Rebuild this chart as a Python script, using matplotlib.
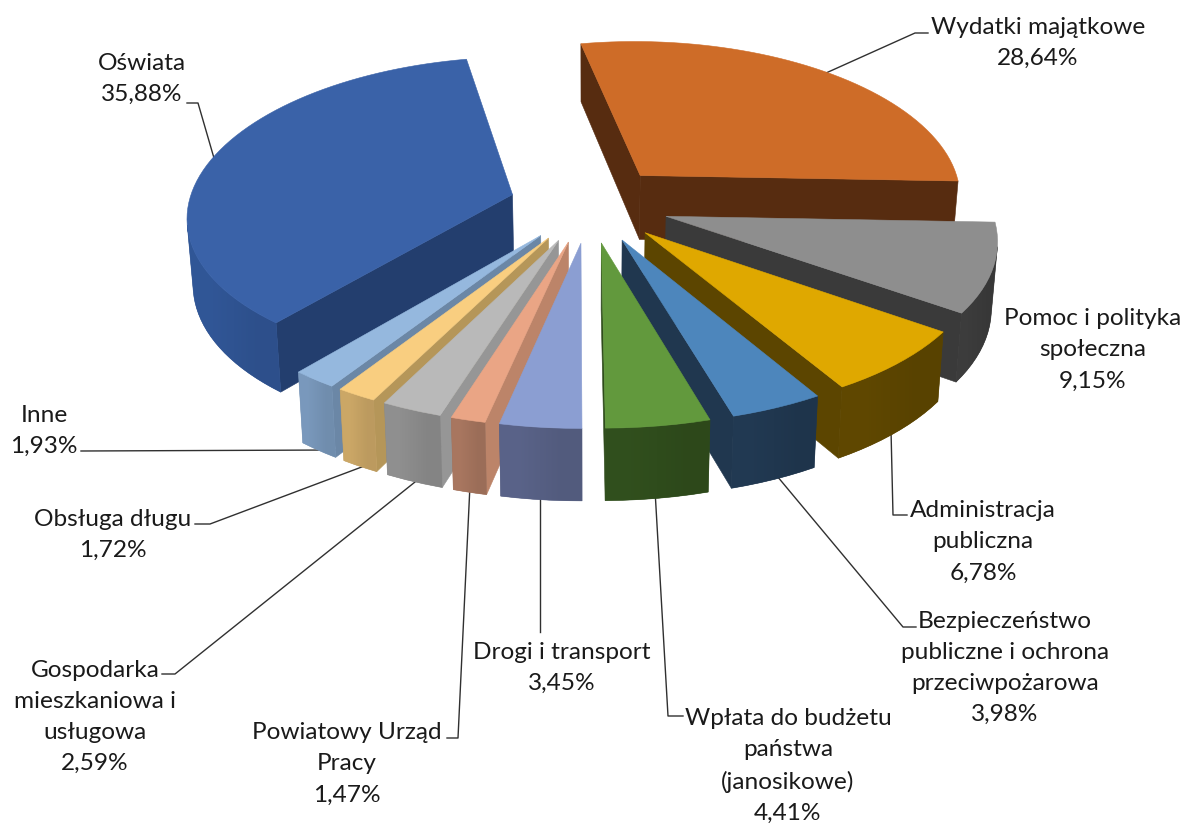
import numpy as np
import matplotlib
matplotlib.use("Agg")
import matplotlib.pyplot as plt
from matplotlib.colors import to_rgb
from matplotlib.patches import Polygon

# dane
labels = ["Wydatki majątkowe", "Pomoc i polityka\nspołeczna", "Administracja\npubliczna",
          "Bezpieczeństwo\npubliczne i ochrona\nprzeciwpożarowa",
          "Wpłata do budżetu\npaństwa\n(janosikowe)", "Drogi i transport",
          "Powiatowy Urząd\nPracy", "Gospodarka\nmieszkaniowa i\nusługowa",
          "Obsługa długu", "Inne", "Oświata"]
values = [28.64, 9.15, 6.78, 3.98, 4.41, 3.45, 1.47, 2.59, 1.72, 1.93, 35.88]
top_colors = ["#CE6C28", "#8E8E8E", "#DFA800", "#4D86BC", "#62993D", "#8B9ED2",
              "#EAA585", "#B9B9B9", "#F9CE80", "#95B8DE", "#3A62A8"]
wall_colors = ["#572C10", "#3A3A3A", "#5C4500", "#20374F", "#2F4C1C", "#565F83",
               "#A2725C", "#8A8A8A", "#C4A163", "#7593B5", "#2F5391"]
side_colors = ["#572C10", "#3A3A3A", "#5C4500", "#20374F", "#2F4C1C", "#565F83",
               "#BC8469", "#969696", "#B59659", "#6B87A6", "#233E6E"]
# kolejnosc rysowania: od tylu do przodu
draw_order = [0, 10, 1, 2, 3, 9, 8, 7, 6, 5, 4]

label_pos = [(1038, 43), (1093, 350), (983, 542), (1005, 668), (788, 766), (562, 668),
             (347, 764), (95, 717), (113, 535), (44, 431), (142, 79)]
value_text = ["%.2f%%" % v for v in values]
leaders = [[(826, 73), (915, 33), (928, 33)],
           [],
           [(891, 430), (893, 515), (907, 515)],
           [(772, 470), (903, 627), (916, 627)],
           [(655, 490), (668, 716), (683, 716)],
           [(540, 490), (540, 632)],
           [(470, 485), (458, 738), (447, 738)],
           [(425, 474), (175, 674), (162, 674)],
           [(375, 462), (210, 524), (195, 524)],
           [(335, 450), (81, 451)],
           [(216, 165), (198, 103), (187, 103)]]

CX, CY = 589.4, 204
AX, BY = 324, 155
PERSP_X, PERSP_Y = 0.128, 0.112
EXPLODE = 0.247
START = -11.0


def project(x, y):
    # y dodatnie = do widza
    return CX + AX * x / (1 - PERSP_X * y), CY + BY * y / (1 - PERSP_Y * y)


def height(y):
    return 65 + 6 * y


def slice_points(a0, a1, off_x, off_y):
    ang = np.radians(np.linspace(a0, a1, max(4, int((a1 - a0) / 2))))
    return off_x + np.sin(ang), off_y - np.cos(ang)


def area(pts):
    x, y = np.array(pts).T
    return 0.5 * np.sum(x * np.roll(y, -1) - np.roll(x, -1) * y)


def wall(ax, world, color, z, shaded=False):
    # sciana pod gorna krawedzia, rysowana tylko gdy widoczna
    tops = [project(*w) for w in world]
    bottoms = [(CX + (p[0] - CX) * 0.985, p[1] + height(w[1])) for p, w in zip(tops, world)]
    visible = []
    for k in range(len(tops) - 1):
        q = [tops[k], tops[k + 1], bottoms[k + 1], bottoms[k]]
        if area(q) < 0:
            visible.append(k)
    if not visible:
        return
    first, last = visible[0], visible[-1] + 1
    pts = tops[first:last + 1] + bottoms[first:last + 1][::-1]
    patch = Polygon(pts, closed=True, fc=color, ec=color, lw=0.4, zorder=z)
    ax.add_patch(patch)
    if shaded:
        # lekki gradient: z lewej jasniej, z prawej ciemniej
        px, py = np.array(pts).T
        c = np.array(to_rgb(color))
        grad = np.array([[np.clip(c * 1.04, 0, 1), c * 0.96]])
        im = ax.imshow(grad, extent=(px.min(), px.max(), py.max(), py.min()), aspect="auto",
                       interpolation="bilinear", zorder=z)
        im.set_clip_path(patch)


fig = plt.figure(figsize=(11.85, 8.25), dpi=100)
ax = fig.add_axes([0, 0, 1, 1])
ax.axis("off")

edges = np.concatenate([[0], np.cumsum(values)]) * 3.6 + START
for order, i in enumerate(draw_order):
    a0, a1 = edges[i], edges[i + 1]
    mid = np.radians((a0 + a1) / 2)
    ox, oy = EXPLODE * np.sin(mid), -EXPLODE * np.cos(mid)
    xs, ys = slice_points(a0, a1, ox, oy)
    z = 3 + order
    wall(ax, [(ox, oy), (xs[0], ys[0])], side_colors[i], z)
    wall(ax, [(xs[-1], ys[-1]), (ox, oy)], side_colors[i], z)
    wall(ax, list(zip(xs, ys)), wall_colors[i], z + 0.1, shaded=True)
    top = [project(ox, oy)] + [project(a, b) for a, b in zip(xs, ys)]
    ax.add_patch(Polygon(top, closed=True, fc=top_colors[i], ec=top_colors[i], lw=0.4, zorder=z + 0.2))

for line in leaders:
    if line:
        lx, ly = zip(*line)
        ax.plot(lx, ly, color="#303030", lw=1.0, zorder=2)

for name, val, pos in zip(labels, value_text, label_pos):
    ax.text(pos[0], pos[1], name + "\n" + val.replace(".", ","), ha="center", va="center",
            family="Lato", fontsize=17.6, color="#1A1A1A", linespacing=1.6, zorder=30)

ax.set_xlim(0, 1185)
ax.set_ylim(825, 0)
fig.savefig("out.png", dpi=100)
